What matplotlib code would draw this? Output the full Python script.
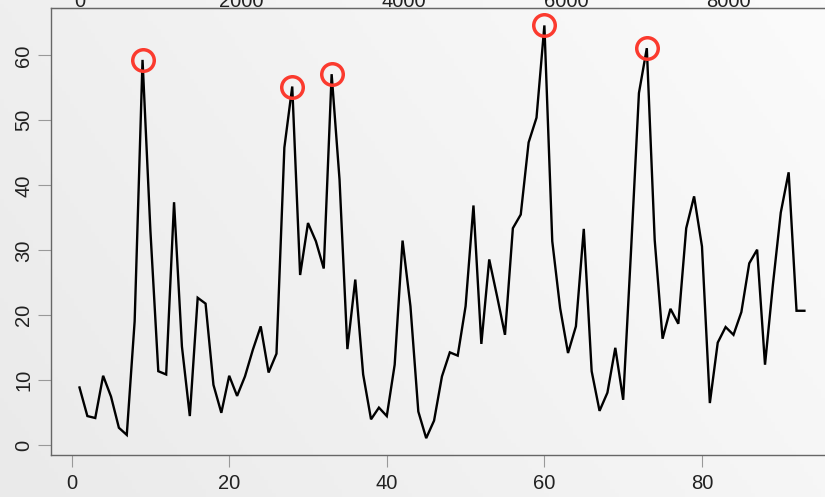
import numpy as np
import matplotlib
matplotlib.use("Agg")
import matplotlib.pyplot as plt

# ---- data ----
x_vals = list(range(1, 94))
y_vals = [8.9, 4.5, 4.2, 10.7, 7.5, 2.7, 1.6, 19.1, 59.3, 33.0,
          11.4, 10.9, 37.4, 15.2, 4.5, 22.7, 21.8, 9.3, 5.0, 10.7,
          7.6, 10.6, 14.7, 18.3, 11.2, 14.1, 45.8, 55.2, 26.2, 34.2,
          31.4, 27.2, 57.1, 40.9, 14.8, 25.5, 10.9, 4.0, 5.8, 4.5,
          12.4, 31.5, 21.4, 5.2, 1.1, 3.8, 10.6, 14.3, 13.8, 21.4,
          36.9, 15.6, 28.6, 22.9, 17.0, 33.4, 35.5, 46.6, 50.4, 64.6,
          31.4, 21.1, 14.2, 18.3, 33.3, 11.4, 5.3, 8.1, 15.0, 7.0,
          30.0, 54.2, 61.1, 31.6, 16.4, 21.0, 18.7, 33.4, 38.3, 30.6,
          6.5, 15.8, 18.2, 17.0, 20.5, 28.0, 30.1, 12.4, 24.7, 35.8,
          42.0, 20.7, 20.7]
peak_idx = [9, 28, 33, 60, 73]
bottom_ticks = [0, 20, 40, 60, 80]
left_ticks = [0, 10, 20, 30, 40, 50, 60]
top_ticks = [0, 2000, 4000, 6000, 8000]
top_scale = 97.2  # top-axis units per index step

plt.rcParams['font.family'] = ['Liberation Sans', 'DejaVu Sans']

W, H = 825, 497
fig = plt.figure(figsize=(W / 100, H / 100), dpi=100)

# background gradient
bg = fig.add_axes([0, 0, 1, 1], zorder=-10)
gx = np.linspace(0, 1, 200)[None, :]
gy = np.linspace(0, 1, 120)[:, None]
tl, bl, tr, br = 239, 234, 251, 246
grad = (tl * (1 - gx) * (1 - gy) + tr * gx * (1 - gy) + bl * (1 - gx) * gy + br * gx * gy) / 255.0
bg.imshow(np.dstack([grad] * 3), aspect='auto', extent=[0, 1, 0, 1], origin='upper')
bg.axis('off')

left_px, right_px, top_px, bot_px = 50.5, 833.4, 8.0, 455.0
ax = fig.add_axes([left_px / W, (H - bot_px) / H, (right_px - left_px) / W, (bot_px - top_px) / H])
ax.set_facecolor('none')

ax.plot(x_vals, y_vals, color='black', lw=1.7, solid_joinstyle='miter')
px = [x_vals[i - 1] for i in peak_idx]
py = [y_vals[i - 1] for i in peak_idx]
ax.plot(px, py, linestyle='none', marker='o', markersize=15.5, markerfacecolor='none',
        markeredgecolor='#fb3a2e', markeredgewidth=2.5, zorder=5)

ax.set_xlim(-2.68, 96.68)
ax.set_ylim(-1.49, 67.28)

ax.spines['right'].set_visible(False)
for s in ['left', 'bottom', 'top']:
    ax.spines[s].set_color('#666666')
    ax.spines[s].set_linewidth(1.0)

ax.set_xticks(bottom_ticks)
ax.set_yticks(left_ticks)
ax.tick_params(axis='x', direction='out', length=8.6, width=0.8, color='#999999',
               labelsize=14.5, labelcolor='#222222', pad=5.0)
ax.tick_params(axis='y', direction='out', length=9.4, width=0.8, color='#999999',
               labelsize=14.5, labelcolor='#222222', pad=3.0)
for lab in ax.get_yticklabels():
    lab.set_rotation(90)
    lab.set_va('center')

sec = ax.secondary_xaxis('top', functions=(lambda v: top_scale * (v - 1),
                                           lambda t: t / top_scale + 1))
sec.set_xticks(top_ticks)
sec.tick_params(axis='x', length=0, labelsize=14.5, labelcolor='#222222', pad=-2.5)
for s in ['left', 'right', 'bottom']:
    sec.spines[s].set_visible(False)
sec.spines['top'].set_color('#777777')

fig.savefig('out.png', dpi=100)
